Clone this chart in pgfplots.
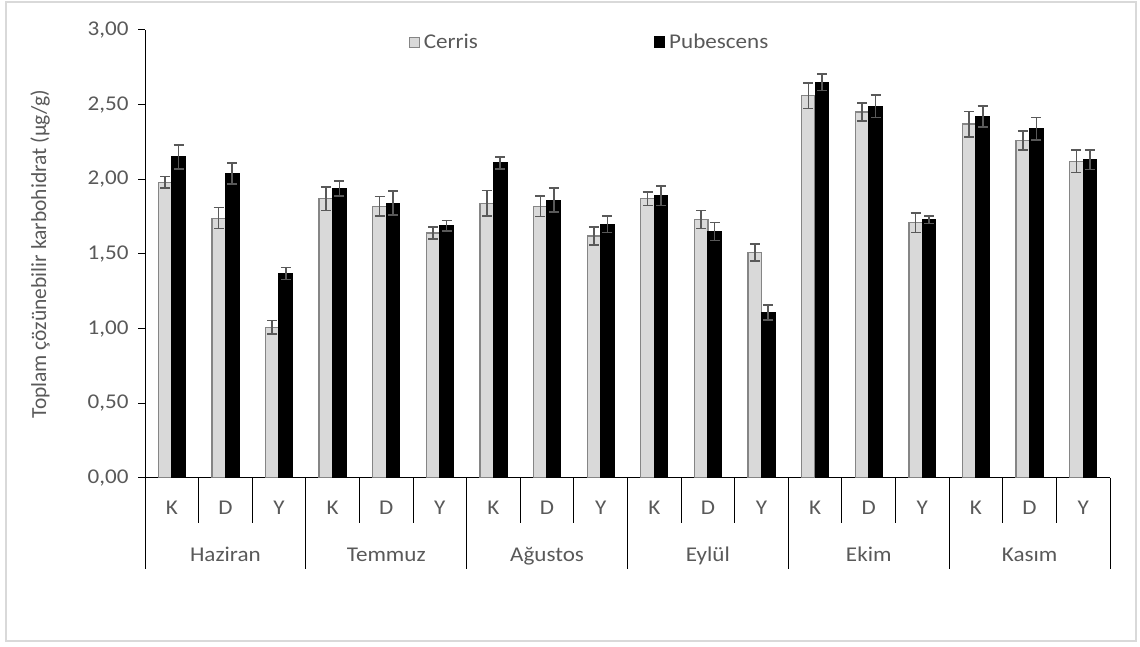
\documentclass[border=0pt]{standalone}
\usepackage{pgfplots}
\pgfplotsset{compat=1.18}
\usepackage{pgfplotstable}
\usepackage{fontspec}
\setmainfont[FakeStretch=1.1]{Carlito}
\newfontfamily\ylabfont{Carlito}

\definecolor{txt}{HTML}{595959}
\definecolor{cerfill}{HTML}{D9D9D9}
\definecolor{cerline}{HTML}{858585}
\definecolor{errc}{HTML}{595959}
\definecolor{framec}{HTML}{D9D9D9}

% x: category index (K, D, Y per month); c/ce: Cerris mean and error; p/pe: Pubescens
\pgfplotstableread{
x   c     ce     p     pe
0   1.98  0.040  2.15  0.080
1   1.74  0.070  2.04  0.070
2   1.01  0.045  1.37  0.040
3   1.87  0.080  1.94  0.050
4   1.82  0.065  1.84  0.080
5   1.64  0.040  1.69  0.035
6   1.84  0.085  2.11  0.040
7   1.82  0.070  1.86  0.080
8   1.62  0.060  1.70  0.055
9   1.87  0.045  1.89  0.065
10  1.73  0.060  1.65  0.060
11  1.51  0.055  1.11  0.050
12  2.56  0.085  2.65  0.055
13  2.45  0.060  2.49  0.075
14  1.71  0.065  1.73  0.025
15  2.37  0.085  2.42  0.070
16  2.26  0.065  2.34  0.075
17  2.12  0.075  2.13  0.065
}\data

\begin{document}
\begin{tikzpicture}[x=1pt,y=1pt]
\useasboundingbox (0pt,0pt) rectangle (1140pt,647pt);
\draw[framec, line width=1.5pt] (6pt,6pt) rectangle (1136pt,645pt);

\begin{axis}[
  at={(145pt,169pt)}, anchor=south west,
  scale only axis, width=965pt, height=448pt,
  xmin=-0.5, xmax=17.5, ymin=0, ymax=3,
  axis x line=bottom, axis y line=left,
  axis line style={-, black, line width=1pt},
  ybar=0pt, bar width=13.5pt,
  ytick={0,0.5,1,1.5,2,2.5,3},
  tick align=outside, major tick length=7pt,
  ytick style={black, line width=1pt},
  /pgf/number format/fixed,
  /pgf/number format/fixed zerofill,
  /pgf/number format/precision=2,
  /pgf/number format/use comma,
  /pgf/number format/assume math mode=true,
  yticklabel style={font=\fontsize{21}{25}\selectfont, color=txt, xshift=-6pt},
  xtick={0,...,17},
  xticklabels={K,D,Y,K,D,Y,K,D,Y,K,D,Y,K,D,Y,K,D,Y},
  xtick style={draw=none},
  xticklabel style={font=\fontsize{21}{25}\selectfont, color=txt, anchor=base, yshift=-30pt},
  legend style={at={(rel axis cs:0.27,0.973)}, anchor=west, draw=none, fill=none,
    font=\fontsize{21}{25}\selectfont, text=txt, legend columns=2,
    /tikz/every even column/.append style={column sep=172pt},
    nodes={inner xsep=4pt}},
]
\addplot[fill=cerfill, draw=cerline, line width=1.3pt,
  error bars/.cd, y dir=both, y explicit,
  error bar style={errc, line width=1.6pt},
  error mark options={rotate=90, errc, mark size=5pt, line width=1.6pt},
  /pgfplots/legend image code/.code={\draw[fill=cerfill, draw=cerline, line width=1pt] (0pt,-5pt) rectangle (10pt,5pt);}]
  table[x=x, y=c, y error=ce] {\data};
\addlegendentry{Cerris}
\addplot[fill=black, draw=black, line width=1.2pt,
  error bars/.cd, y dir=both, y explicit,
  error bar style={errc, line width=1.6pt},
  error mark options={rotate=90, errc, mark size=5pt, line width=1.6pt},
  /pgfplots/legend image code/.code={\fill[black] (0pt,-5pt) rectangle (10pt,5pt);}]
  table[x=x, y=p, y error=pe] {\data};
\addlegendentry{Pubescens}
\end{axis}

% category and month separators below the x axis
\foreach \k in {0,...,18} {
  \draw[black, line width=1pt] ({(145+965/18*\k)*1pt},169pt) -- ++(0pt,-45pt);
}
\foreach \k in {0,3,...,18} {
  \draw[black, line width=1pt] ({(145+965/18*\k)*1pt},169pt) -- ++(0pt,-91pt);
}
\foreach \m [count=\i from 0] in {Haziran,Temmuz,Ağustos,Eylül,Ekim,Kasım} {
  \node[font=\fontsize{21}{25}\selectfont, text=txt, anchor=base] at ({(145+965/18*(3*\i+1.5))*1pt},85pt) {\m};
}
\node[rotate=90, font=\ylabfont\fontsize{21.5}{25}\selectfont, text=txt] at (40pt,393pt)
  {Toplam çözünebilir karbohidrat (µg/g)};
\end{tikzpicture}
\end{document}
